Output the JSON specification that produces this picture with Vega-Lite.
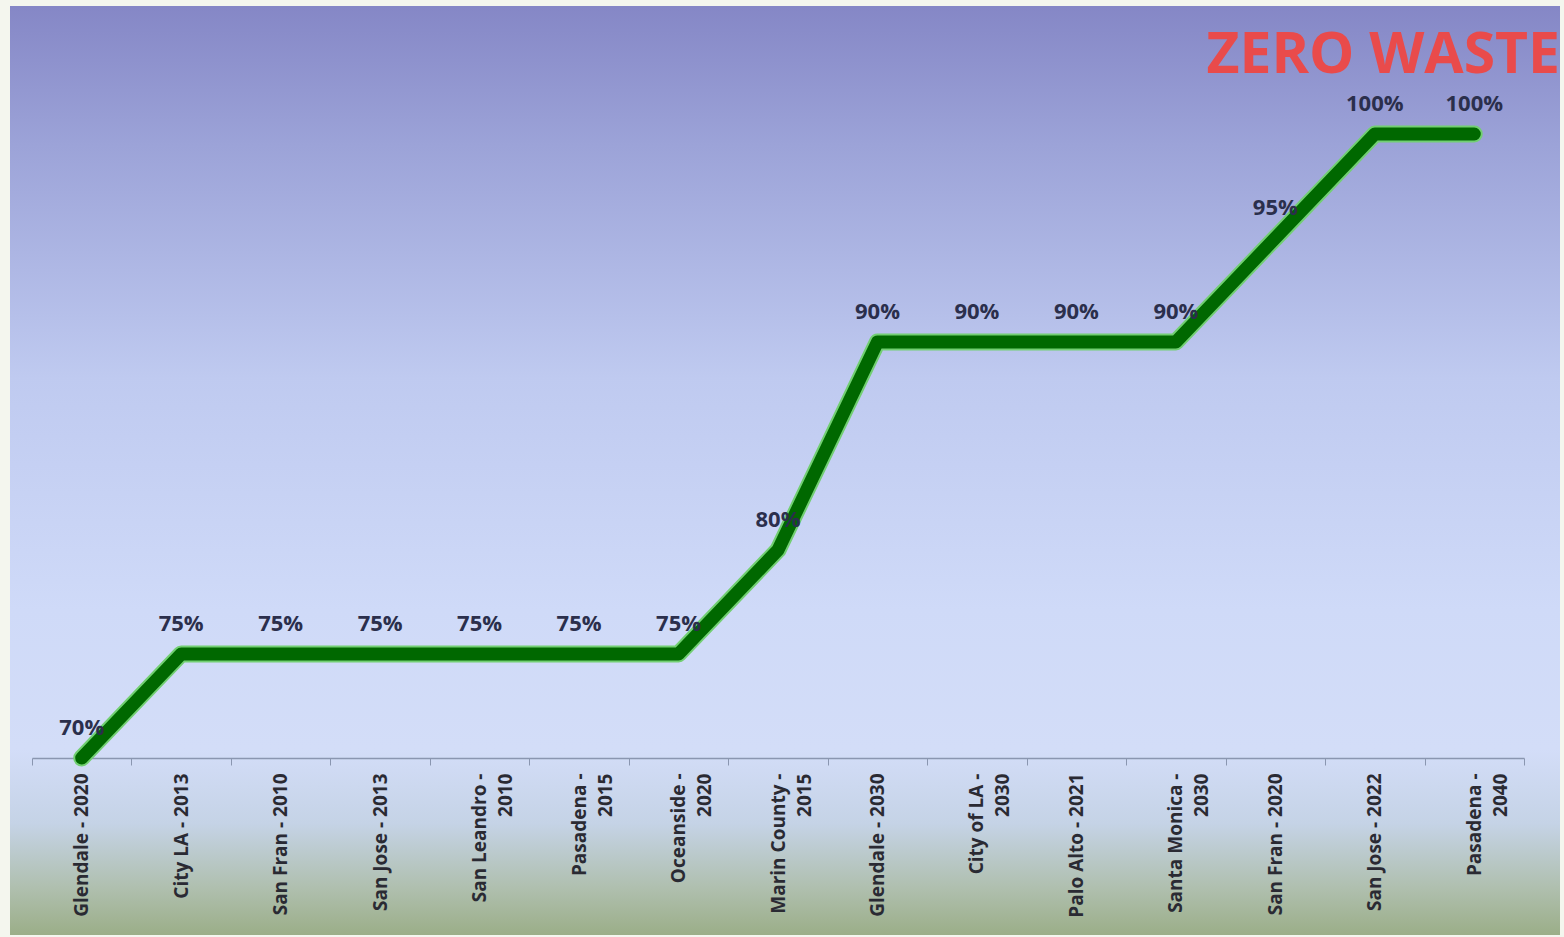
{
  "$schema": "https://vega.github.io/schema/vega-lite/v6.json",
  "autosize": "none",
  "width": 1550,
  "height": 929,
  "padding": {"left": 10, "top": 6, "right": 4, "bottom": 2},
  "background": "#f4f6ee",
  "title": {
    "text": "ZERO WASTE",
    "orient": "top",
    "anchor": "end",
    "frame": "group",
    "offset": -124,
    "baseline": "alphabetic",
    "font": "Open Sans",
    "fontSize": 57,
    "fontWeight": "bold",
    "color": "#e94b4b"
  },
  "config": {
    "view": {
      "stroke": null,
      "fill": {
        "gradient": "linear",
        "x1": 0, "y1": 0, "x2": 0, "y2": 1,
        "stops": [
          {"offset": 0, "color": "#8587c6"},
          {"offset": 0.15, "color": "#9ca3d8"},
          {"offset": 0.4, "color": "#bfcaf0"},
          {"offset": 0.65, "color": "#cfdaf8"},
          {"offset": 0.8, "color": "#d3ddf8"},
          {"offset": 0.88, "color": "#c5d3e6"},
          {"offset": 0.95, "color": "#afbfae"},
          {"offset": 1, "color": "#9bae88"}
        ]
      }
    }
  },
  "data": {
    "values": [
      {"city": "Glendale - 2020", "pct": 0.70},
      {"city": "City LA - 2013", "pct": 0.75},
      {"city": "San Fran - 2010", "pct": 0.75},
      {"city": "San Jose - 2013", "pct": 0.75},
      {"city": "San Leandro - 2010", "pct": 0.75},
      {"city": "Pasadena - 2015", "pct": 0.75},
      {"city": "Oceanside - 2020", "pct": 0.75},
      {"city": "Marin County - 2015", "pct": 0.80},
      {"city": "Glendale - 2030", "pct": 0.90},
      {"city": "City of LA - 2030", "pct": 0.90},
      {"city": "Palo Alto - 2021", "pct": 0.90},
      {"city": "Santa Monica - 2030", "pct": 0.90},
      {"city": "San Fran - 2020", "pct": 0.95},
      {"city": "San Jose - 2022", "pct": 1.00},
      {"city": "Pasadena - 2040", "pct": 1.00}
    ]
  },
  "encoding": {
    "x": {
      "field": "city",
      "type": "nominal",
      "sort": null,
      "scale": {"type": "band", "range": [22, 1514], "paddingInner": 0, "paddingOuter": 0},
      "axis": {
        "title": null,
        "orient": "bottom",
        "offset": -177,
        "labelAngle": 270,
        "labelAlign": "right",
        "labelBaseline": "middle",
        "labelFont": "Open Sans",
        "labelFontSize": 19,
        "labelFontWeight": "bold",
        "labelColor": "#2a2a33",
        "labelPadding": 8,
        "labelLineHeight": 26,
        "labelExpr": "indexof(['San Leandro - 2010','Pasadena - 2015','Oceanside - 2020','Marin County - 2015','City of LA - 2030','Santa Monica - 2030','Pasadena - 2040'], datum.label) >= 0 ? split(replace(datum.label, ' - ', ' -|'), '|') : datum.label",
        "tickBand": "extent",
        "ticks": true,
        "tickSize": 7,
        "tickColor": "#8a96b0",
        "domainColor": "#8a96b0",
        "domainWidth": 1.5,
        "grid": false
      }
    },
    "y": {
      "field": "pct",
      "type": "quantitative",
      "scale": {"domain": [0.6149, 1.06154], "nice": false, "zero": false},
      "axis": null
    }
  },
  "layer": [
    {
      "mark": {"type": "line", "color": "#72cf72", "strokeWidth": 17, "strokeCap": "round", "strokeJoin": "round"}
    },
    {
      "mark": {"type": "line", "color": "#006800", "strokeWidth": 13, "strokeCap": "round", "strokeJoin": "round"}
    },
    {
      "mark": {"type": "text", "dy": -30, "baseline": "middle", "font": "Open Sans", "fontSize": 22, "fontWeight": "bold", "color": "#2b2f4c"},
      "encoding": {
        "text": {"field": "pct", "type": "quantitative", "format": ".0%"}
      }
    }
  ]
}
